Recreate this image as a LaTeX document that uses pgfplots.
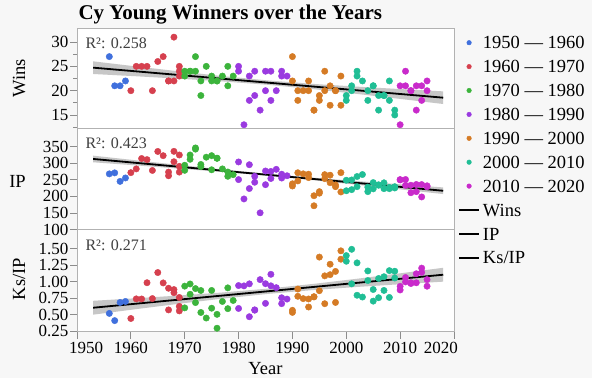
\documentclass[border=0pt]{standalone}
\usepackage{fontspec}
\setmainfont{Liberation Serif}
\usepackage{pgfplots}
\usepackage{pgfplotstable}
\pgfplotsset{compat=1.18}

\definecolor{bgc}{HTML}{F7F7F7}
\definecolor{cA}{HTML}{4070DD}
\definecolor{cB}{HTML}{D6404E}
\definecolor{cC}{HTML}{3CB43C}
\definecolor{cD}{HTML}{9A3AE0}
\definecolor{cE}{HTML}{D57B25}
\definecolor{cF}{HTML}{20BE95}
\definecolor{cG}{HTML}{C92ACB}

\newcommand\ticksize{\fontsize{17}{17}\selectfont}
\newcommand\labsize{\fontsize{18.5}{18.5}\selectfont}

\pgfplotstableread{
year wins ip ks
1956 27 268.00 0.519
1957 21 271.00 0.410
1958 21 245.33 0.685
1959 22 255.67 0.700
}\dA
\pgfplotstableread{
year wins ip ks
1960 20 271.67 0.442
1961 25 283.00 0.739
1962 25 314.33 0.738
1963 25 311.00 0.984
1964 20 278.33 0.744
1965 26 335.67 1.138
1966 27 323.00 0.981
1967 22 262.33 0.572
1967 22 273.33 0.900
1968 22 304.67 0.880
1968 31 336.00 0.833
1969 25 273.33 0.761
1969 24 325.00 0.557
1969 23 290.67 0.626
}\dB
\pgfplotstableread{
year wins ip ks
1970 23 294.00 0.932
1970 24 278.67 0.603
1971 24 325.00 0.809
1971 24 312.00 0.965
1972 27 346.33 0.895
1972 24 342.67 0.683
1973 19 290.00 0.866
1973 22 296.33 0.533
1974 25 318.33 0.449
1975 22 280.33 0.867
1975 23 323.00 0.598
1976 22 315.33 0.295
1976 22 315.00 0.505
1977 23 283.00 0.700
1978 21 260.67 0.591
1978 25 273.67 0.906
1979 23 265.67 0.715
}\dC
\pgfplotstableread{
year wins ip ks
1980 25 250.67 0.594
1980 24 304.00 0.941
1981 13 192.33 0.936
1982 23 295.67 0.967
1982 18 223.67 0.469
1983 24 260.67 0.568
1983 19 242.67 0.573
1984 16 150.33 1.031
1985 24 276.67 0.969
1985 20 235.33 0.671
1986 24 254.00 0.937
1986 18 275.33 1.111
1987 20 281.67 0.909
1988 23 267.00 0.667
1988 24 255.33 0.756
1989 23 262.33 0.736
}\dD
\pgfplotstableread{
year wins ip ks
1990 27 238.00 0.534
1990 22 231.33 0.566
1991 20 246.67 0.778
1991 18 271.33 0.888
1992 20 268.00 0.743
1993 20 267.00 0.738
1993 22 256.67 0.616
1994 16 202.00 0.772
1994 16 171.67 0.769
1995 19 209.67 0.863
1995 18 214.33 1.372
1996 24 253.67 1.088
1996 20 265.67 0.666
1997 17 241.33 1.264
1997 21 264.00 1.106
1998 20 229.33 0.685
1998 20 234.67 1.155
1999 17 271.67 1.340
1999 23 213.33 1.467
}\dE
\pgfplotstableread{
year wins ip ks
2000 19 248.67 1.395
2000 18 217.00 1.309
2001 21 249.67 1.490
2001 20 220.33 0.967
2002 24 260.00 1.285
2002 23 229.33 0.794
2003 22 266.00 0.767
2004 20 228.00 1.162
2004 18 214.33 1.017
2005 21 241.67 0.881
2005 21 222.67 0.705
2006 16 235.00 0.757
2006 19 233.67 1.048
2007 19 223.33 1.075
2007 19 241.00 0.867
2008 18 227.00 1.167
2008 22 223.33 0.761
2009 15 225.33 1.158
2009 16 229.33 1.055
}\dF
\pgfplotstableread{
year wins ip ks
2010 21 250.67 0.874
2010 13 249.67 0.929
2011 21 233.33 1.063
2011 24 251.00 0.996
2012 20 233.67 0.984
2012 20 211.00 0.972
2013 16 236.00 0.983
2013 21 214.33 1.120
2014 21 198.33 1.205
2014 18 235.67 1.141
2015 22 229.00 1.031
2015 20 232.00 0.931
}\dG

\pgfplotsset{
  panel/.style={scale only axis, width=377pt, xmin=1950, xmax=2020, clip=false,
    axis background/.style={fill=white},
    axis line style={black!30},
    every tick/.style={black!45, line width=0.8pt},
    tick align=outside, ytick pos=left, xtick pos=bottom,
    major tick length=7pt, minor tick length=4pt,
    tick label style={font=\ticksize},
    yticklabel style={inner sep=1.5pt},
    xticklabel style={inner sep=3.5pt},
    /pgf/number format/assume math mode=true,
    /pgf/number format/1000 sep={},
    xtick=\empty,
  },
  pts/.style={only marks, mark=*, mark size=3.2pt, color=#1, forget plot},
  band/.style={fill=black!22, draw=none, forget plot},
  fit/.style={black, line width=1.8pt, forget plot},
  dotleg/.style={legend image code/.code={%
      \draw[mark repeat=2,mark phase=2,only marks,mark=*,mark size=2.3pt,##1] plot coordinates {(0pt,0pt)(10pt,0pt)(20pt,0pt)};}},
  lineleg/.style={legend image code/.code={%
      \draw[black, line width=1.8pt] (0pt,0pt) -- (20pt,0pt);}},
}
\tikzset{rsq/.style={anchor=base west, font=\fontsize{16}{16}\selectfont, text=black!75, xshift=5pt, yshift=-20.5pt}}

\begin{document}
\begin{tikzpicture}
\path[use as bounding box, fill=bgc] (0,0) rectangle (592pt,378pt);

% ---------- Wins ----------
\begin{axis}[panel, at={(77pt,250pt)}, anchor=south west, height=100pt,
  ymin=12.33, ymax=32.88, ytick={15,20,25,30}, minor ytick={12.5,17.5,22.5,27.5},
  legend style={at={(1,1)}, anchor=north west, xshift=4pt, yshift=-6pt,
    draw=none, fill=none, inner sep=0pt, font=\labsize, row sep=6.9pt,
    nodes={inner sep=2pt, text height=12.6pt, text depth=0.4pt}, column sep=1pt},
  legend cell align=left,
]
\addplot[band] coordinates {(1953,26.03) (1961,24.98) (1969,23.96) (1977,22.99) (1985.5,22.10) (1994,21.38) (2002,20.83) (2010,20.33) (2018,19.86)
  (2018,17.26) (2010,18.31) (2002,19.33) (1994,20.30) (1985.5,21.20) (1977,21.91) (1969,22.46) (1961,22.96) (1953,23.43)} -- cycle;
\addplot[fit] coordinates {(1953,24.73) (2018,18.56)};
\addplot[pts=cA] table[x=year,y=wins]{\dA};
\addplot[pts=cB] table[x=year,y=wins]{\dB};
\addplot[pts=cC] table[x=year,y=wins]{\dC};
\addplot[pts=cD] table[x=year,y=wins]{\dD};
\addplot[pts=cE] table[x=year,y=wins]{\dE};
\addplot[pts=cF] table[x=year,y=wins]{\dF};
\addplot[pts=cG] table[x=year,y=wins]{\dG};
\node[rsq] at (rel axis cs:0,1) {R²: 0.258};
\addlegendimage{dotleg, color=cA}
\addlegendimage{dotleg, color=cB}
\addlegendimage{dotleg, color=cC}
\addlegendimage{dotleg, color=cD}
\addlegendimage{dotleg, color=cE}
\addlegendimage{dotleg, color=cF}
\addlegendimage{dotleg, color=cG}
\addlegendimage{lineleg}
\addlegendimage{lineleg}
\addlegendimage{lineleg}
\legend{1950 — 1960, 1960 — 1970, 1970 — 1980, 1980 — 1990, 1990 — 2000, 2000 — 2010, 2010 — 2020, Wins, IP, Ks/IP}
\end{axis}

% ---------- IP ----------
\begin{axis}[panel, at={(77pt,148.5pt)}, anchor=south west, height=101.5pt,
  ymin=100, ymax=406.5, ytick={100,150,200,250,300,350}]
\addplot[band] coordinates {(1953,323) (1961,308.83) (1969,294.94) (1977,281.36) (1985.5,268) (1994,256.26) (2002,246.2) (2010,236.47) (2018,227)
  (2018,207) (2010,221.17) (2002,235.06) (1994,248.64) (1985.5,262) (1977,273.74) (1969,283.80) (1961,293.53) (1953,303)} -- cycle;
\addplot[fit] coordinates {(1953,313) (2018,217)};
\addplot[pts=cA] table[x=year,y=ip]{\dA};
\addplot[pts=cB] table[x=year,y=ip]{\dB};
\addplot[pts=cC] table[x=year,y=ip]{\dC};
\addplot[pts=cD] table[x=year,y=ip]{\dD};
\addplot[pts=cE] table[x=year,y=ip]{\dE};
\addplot[pts=cF] table[x=year,y=ip]{\dF};
\addplot[pts=cG] table[x=year,y=ip]{\dG};
\node[rsq] at (rel axis cs:0,1) {R²: 0.423};
\end{axis}

% ---------- Ks/IP ----------
\begin{axis}[panel, at={(77pt,46.5pt)}, anchor=south west, height=102pt,
  ymin=0.245, ymax=1.79, ytick={0.25,0.5,0.75,1,1.25,1.5},
  yticklabel style={/pgf/number format/.cd, fixed, fixed zerofill, precision=2},
  xtick={1950,1960,1970,1980,1990,2000,2010,2020},
  xticklabels={\hspace*{18pt}1950,1960,1970,1980,1990,2000,2010,2020\hspace*{26pt}}]
\addplot[band] coordinates {(1953,0.710) (1961,0.749) (1969,0.790) (1977,0.836) (1985.5,0.895) (1994,0.967) (2002,1.044) (2010,1.126) (2018,1.210)
  (2018,1.000) (2010,0.961) (2002,0.920) (1994,0.874) (1985.5,0.815) (1977,0.743) (1969,0.666) (1961,0.584) (1953,0.500)} -- cycle;
\addplot[fit] coordinates {(1953,0.605) (2018,1.105)};
\addplot[pts=cA] table[x=year,y=ks]{\dA};
\addplot[pts=cB] table[x=year,y=ks]{\dB};
\addplot[pts=cC] table[x=year,y=ks]{\dC};
\addplot[pts=cD] table[x=year,y=ks]{\dD};
\addplot[pts=cE] table[x=year,y=ks]{\dE};
\addplot[pts=cF] table[x=year,y=ks]{\dF};
\addplot[pts=cG] table[x=year,y=ks]{\dG};
\node[rsq] at (rel axis cs:0,1) {R²: 0.271};
\end{axis}

\node[anchor=base west, font=\fontsize{21}{21}\selectfont\bfseries] at (75pt,358pt) {Cy Young Winners over the Years};
\node[rotate=90, anchor=base, font=\labsize] at (25pt,300pt) {Wins};
\node[anchor=base, font=\labsize] at (17.5pt,190pt) {IP};
\node[rotate=90, anchor=base, font=\labsize] at (25pt,99pt) {Ks/IP};
\node[anchor=base, font=\labsize] at (265.5pt,3.5pt) {Year};
\end{tikzpicture}
\end{document}
